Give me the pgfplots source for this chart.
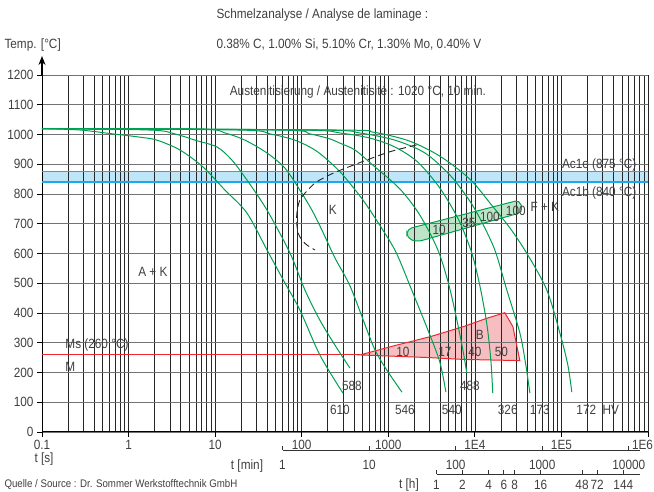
\documentclass[border=0pt]{standalone}
\usepackage{pgfplots}
\pgfplotsset{compat=1.18}
\usepackage{fontspec}
\setmainfont{Liberation Sans}[FakeStretch=0.88]
\usetikzlibrary{arrows.meta}
\definecolor{cgreen}{RGB}{0,160,80}
\definecolor{cfkfill}{RGB}{190,228,200}
\definecolor{cblue}{RGB}{30,170,230}
\definecolor{cbluefill}{RGB}{190,230,248}
\definecolor{cred}{RGB}{235,40,45}
\definecolor{credfill}{RGB}{246,190,192}
\definecolor{ctext}{RGB}{64,64,64}
\newcommand{\fs}{\fontsize{13.4bp}{15bp}\selectfont}
\begin{document}
\begin{tikzpicture}[font=\fs, text=ctext]
\begin{axis}[
  at={(42bp,60bp)}, anchor=south west, scale only axis,
  width=606bp, height=357bp,
  xmode=log, xmin=0.1, xmax=1e6, ymin=0, ymax=1200,
  axis x line*=bottom, axis y line*=left,
  xtick={0.1,1,10,100,1000,10000,100000,1000000},
  xticklabels={0.1,1,10,100,1000,1E4,1E5,\makebox[0pt][r]{1E6\hspace{-5bp}}},
  minor xtick={0.2,0.3,0.4,0.5,0.6,0.7,0.8,0.9,2,3,4,5,6,7,8,9,20,30,40,50,60,70,80,90,200,300,400,500,600,700,800,900,2000,3000,4000,5000,6000,7000,8000,9000,2e4,3e4,4e4,5e4,6e4,7e4,8e4,9e4,2e5,3e5,4e5,5e5,6e5,7e5,8e5,9e5},
  ytick={0,100,200,300,400,500,600,700,800,900,1000,1100,1200},
  yticklabels={0,100,200,300,400,500,600,700,800,900,1000,1100,1200},
  grid=both,
  x grid style={black!85, line width=0.65bp},
  y grid style={black!55, line width=0.9bp},
  tick align=outside, major tick length=5bp, minor tick length=0pt,
  tick style={black, line width=0.8bp},
  axis line style={black, line width=1bp},
  tick label style={font=\fs, text=ctext},
  clip=false,
  set layers,
]
% blue Ac1 band
\addplot[draw=none, fill=cbluefill, on layer=axis background] coordinates {(0.1,840) (1e6,840) (1e6,875) (0.1,875)} -- cycle;
\addplot[cblue, line width=1.2bp] coordinates {(0.1,840) (1e6,840)};
\addplot[cblue, line width=1.2bp] coordinates {(0.1,875) (1e6,875)};
% F+K band
\addplot[draw=none, fill=cfkfill, rounded corners=5bp, on layer=axis background] coordinates {(1640,682) (33100,780) (35800,739) (2140,639) (1640,652)} -- cycle;
\addplot[cgreen, line width=1bp, rounded corners=5bp] coordinates {(1640,682) (33100,780) (35800,739) (2140,639) (1640,652)} -- cycle;
% bainite
\addplot[draw=none, fill=credfill, on layer=axis background] coordinates {(470,259) (1247,292) (3020,320) (7330,354) (13650,382) (22200,401) (27500,354) (33100,240) (7330,244) (3020,250) (1361,254)} -- cycle;
\addplot[cred, line width=1bp] coordinates {(470,259) (1247,292) (3020,320) (7330,354) (13650,382) (22200,401) (27500,354) (33100,240) (7330,244) (3020,250) (1361,254)} -- cycle;
% Ms line
\addplot[cred, line width=1bp] coordinates {(0.1,260) (470,260)};
% cooling curves
\addplot[cgreen, line width=1bp, smooth] coordinates {(0.1,1020) (0.275,1015) (0.661,1002) (1.355,991) (2.13,981) (3.92,948) (7.23,891) (13.0,813) (23.3,736) (39.7,612) (64.0,501) (95.3,410) (162,259) (299,131)};
\addplot[cgreen, line width=1bp, smooth] coordinates {(0.1,1020) (1.77,1015) (3.43,1002) (5.84,981) (10.5,958) (15.6,914) (23.3,847) (39.7,746) (73.1,602) (109,477) (162,376) (242,292) (360,215)};
\addplot[cgreen, line width=1bp, smooth] coordinates {(0.1,1020) (6.67,1018) (13.0,1005) (22.1,981) (39.7,938) (64.0,887) (95.3,813) (131,746) (171,679) (242,585) (370,484) (664,292) (914,218) (1437,134)};
\addplot[cgreen, line width=1bp, smooth] coordinates {(0.1,1020) (19.3,1015) (42.9,1002) (83.4,981) (142,948) (212,907) (299,864) (509,780) (822,689) (1224,605) (1824,484) (2867,343) (3940,235) (4626,134)};
\addplot[cgreen, line width=1bp, smooth] coordinates {(0.1,1020) (56.0,1015) (124,1002) (212,985) (276,971) (411,948) (664,897) (1361,817) (2316,729) (3740,612) (5012,494) (6200,376) (7270,276) (8080,198)};
\addplot[cgreen, line width=1bp, smooth] coordinates {(0.1,1020) (95.3,1015) (276,1005) (613,988) (1191,958) (2196,907) (3940,820) (6360,719) (8300,639) (9730,578) (11700,477) (13800,360) (15300,242) (16100,131)};
\addplot[cgreen, line width=1bp, smooth] coordinates {(0.1,1020) (162,1015) (470,1005) (1191,981) (2649,938) (5140,864) (8300,786) (11400,719) (17000,612) (23400,477) (33100,333) (38800,225) (43200,131)};
\addplot[cgreen, line width=1bp, smooth] coordinates {(0.1,1020) (276,1015) (664,1008) (1640,981) (3273,941) (5570,897) (9480,840) (14900,770) (25400,686) (40900,595) (67800,477) (95900,333) (118600,225) (131800,134)};
% K nose (dashed)
\addplot[black!85, line width=0.9bp, smooth, dash pattern=on 7bp off 4bp] coordinates {(2122,965) (1043,942) (562,914) (394,897) (231,870) (149,841) (124,820) (95.3,780) (87.3,724) (91.2,668) (109,634) (142,612)};
% labels
\node at (axis cs:446,1143) {Austenitisierung / Austenitisit\'e : 1020 °C, 10 min.};
\node[anchor=east] at (axis cs:803000,897) {Ac1e (875 °C)};
\node[anchor=east] at (axis cs:803000,803) {Ac1b (840 °C)};
\node at (axis cs:229,746) {K};
\node at (axis cs:1.91,538) {A + K};
\node at (axis cs:64300,756) {F + K};
\node at (axis cs:11400,326) {B};
\node[anchor=west] at (axis cs:0.17,218) {M};
\node[anchor=west] at (axis cs:0.17,292) {Ms (260 °C)};
\node at (axis cs:1475,270) {10};
\node at (axis cs:4508,270) {17};
\node at (axis cs:10000,270) {40};
\node at (axis cs:20300,270) {50};
\node at (axis cs:3870,678) {10};
\node at (axis cs:8530,702) {35};
\node at (axis cs:14900,723) {100};
\node at (axis cs:29700,742) {100};
\node at (axis cs:276,74) {610};
\node at (axis cs:380,155) {588};
\node at (axis cs:1556,74) {546};
\node at (axis cs:5420,74) {540};
\node at (axis cs:8750,155) {488};
\node at (axis cs:24000,74) {326};
\node at (axis cs:56300,74) {173};
\node at (axis cs:263000,74) {172\ \ HV};
\end{axis}
% y axis arrow
\draw[black, line width=1.1bp, -{Stealth[length=9bp,width=7bp]}] (42bp,417bp) -- (42bp,436bp);
% header texts
\node[anchor=west] at (213bp,477bp) {Schmelzanalyse / Analyse de laminage :};
\node[anchor=west] at (1bp,447bp) {Temp. [°C]};
\node[anchor=west] at (213bp,447bp) {0.38\% C, 1.00\% Si, 5.10\% Cr, 1.30\% Mo, 0.40\% V};
\node[anchor=west, font=\fontsize{11bp}{12bp}\selectfont] at (1bp,7bp) {Quelle / Source : Dr. Sommer Werkstofftechnik GmbH};
% time scales
\node at (44bp,33bp) {t [s]};
\node at (247bp,26bp) {t [min]};
\node at (409bp,7bp) {t [h]};
\draw[black!80, line width=0.8bp] (282.5bp,42bp) -- (640bp,42bp);
\foreach \x/\l in {282.5/1,369.1/10,455.7/100,542.2/1000,628.8/10000}{
  \draw[black!80, line width=0.8bp] (\x bp,42bp) -- (\x bp,46bp);
  \node at (\x bp,27bp) {\l};
}
\draw[black!80, line width=0.8bp] (436.5bp,17.5bp) -- (640bp,17.5bp);
\foreach \x/\l in {436.5/1,462.5/2,488.6/4,503.8/6,514.6/8,540.7/16,582.0/48,597.2/72,623.3/144}{
  \draw[black!80, line width=0.8bp] (\x bp,17.5bp) -- (\x bp,21.5bp);
  \node at (\x bp,7bp) {\l};
}
\pgfresetboundingbox
\path (0,0) rectangle (654bp,492bp);
\end{tikzpicture}
\end{document}
